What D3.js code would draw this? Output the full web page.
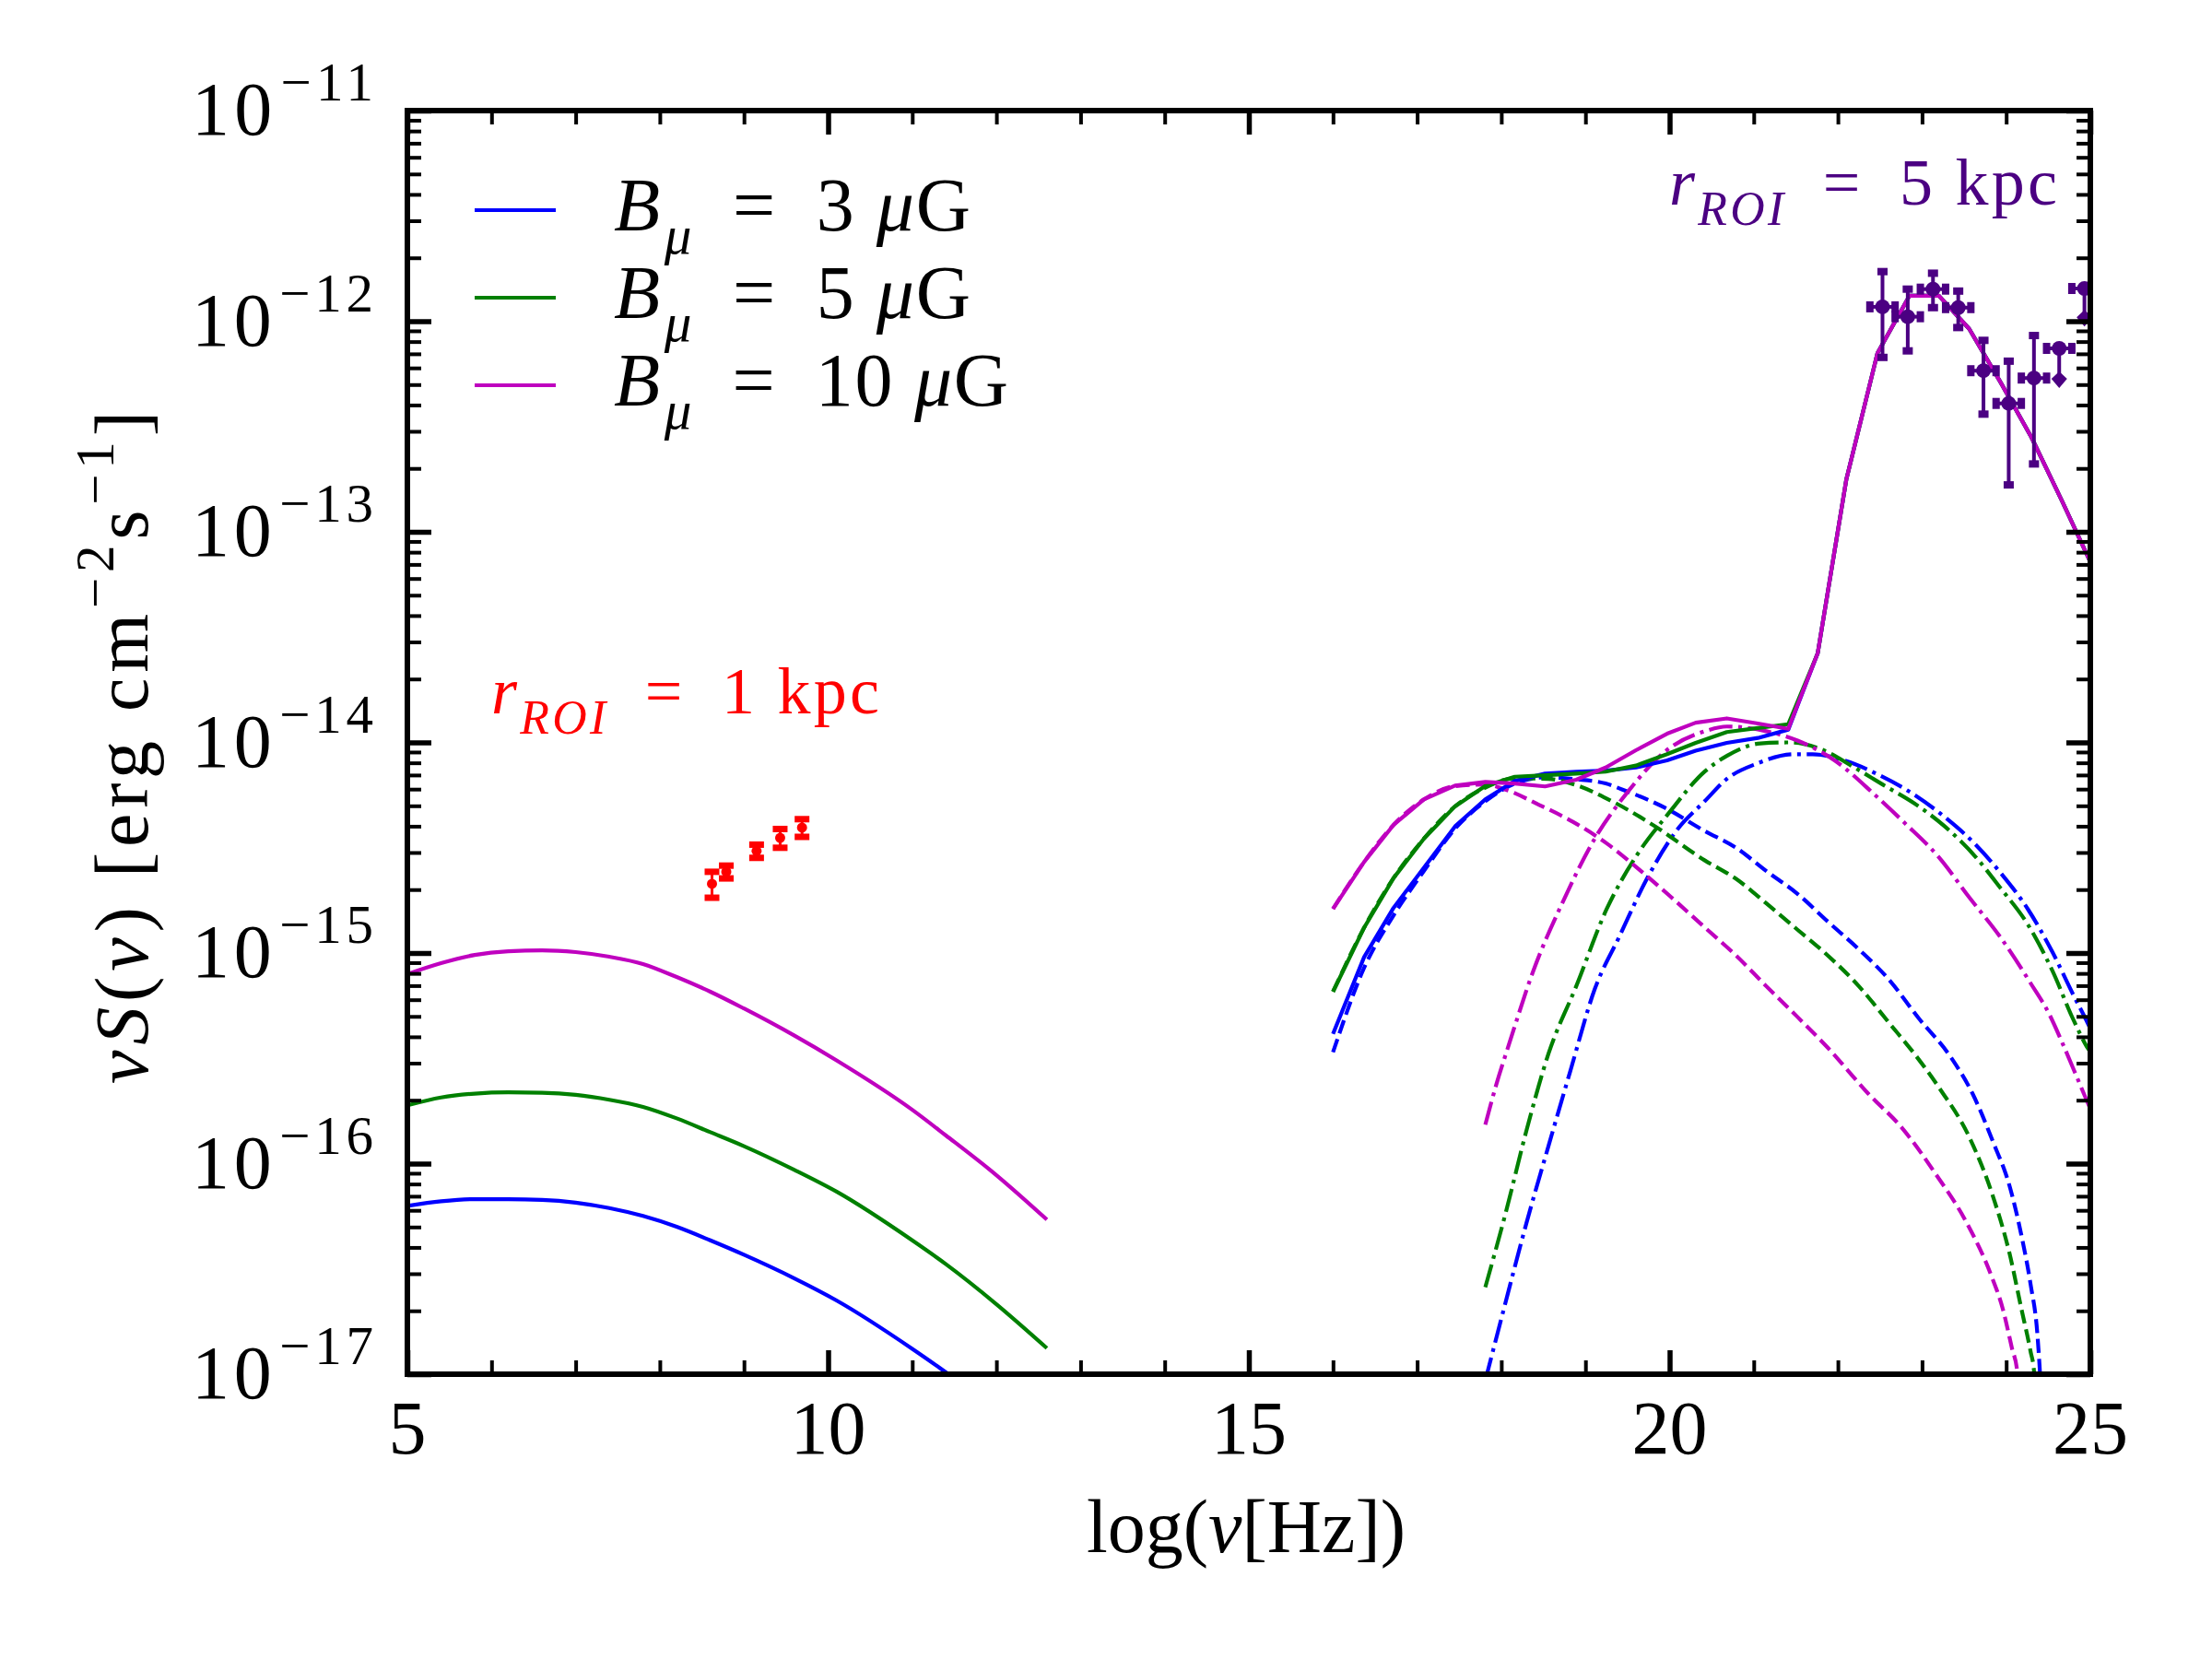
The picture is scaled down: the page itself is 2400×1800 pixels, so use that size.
<!DOCTYPE html>
<html>
<head>
<meta charset="utf-8">
<script src="https://cdn.jsdelivr.net/npm/d3@7"></script>
<style>
  body { margin: 0; background: #fff; }
  text { font-family: "Liberation Serif", "DejaVu Serif", serif; white-space: pre; }
</style>
</head>
<body>
<svg id="chart" width="2400" height="1800"></svg>
<script>
// ---- data ----
// synchrotron (radio) part, x = log(nu/Hz)
var syncX   = [5.0, 5.4, 5.8, 6.2, 6.6, 7.0, 7.4, 7.8, 8.2, 8.6, 9.0, 9.6, 10.1, 11.0, 11.4, 12.0, 12.6];
var syncB3  = [6.30e-17, 6.62e-17, 6.78e-17, 6.78e-17, 6.73e-17, 6.53e-17, 6.15e-17, 5.64e-17, 5.01e-17, 4.32e-17, 3.69e-17, 2.85e-17, 2.24e-17, 1.32e-17, 1.02e-17, 6.61e-18, 4.07e-18];
var syncB5  = [1.89e-16, 2.06e-16, 2.15e-16, 2.18e-16, 2.17e-16, 2.12e-16, 2.01e-16, 1.86e-16, 1.64e-16, 1.41e-16, 1.21e-16, 9.33e-17, 7.36e-17, 4.32e-17, 3.33e-17, 2.15e-17, 1.33e-17];
var syncB10 = [7.94e-16, 8.95e-16, 9.79e-16, 1.02e-15, 1.03e-15, 1.01e-15, 9.60e-16, 8.87e-16, 7.69e-16, 6.55e-16, 5.45e-16, 4.05e-16, 3.09e-16, 1.80e-16, 1.36e-16, 8.81e-17, 5.42e-17];

// high-energy totals (before the common gamma-ray bump)
var hiX   = [16.0, 16.37, 16.72, 17.08, 17.45, 17.81, 18.16, 18.52, 18.89, 19.24, 19.60, 19.97, 20.31, 20.68, 21.05, 21.41];
var hiB3  = [4.13e-16, 9.57e-16, 1.64e-15, 2.54e-15, 3.99e-15, 5.36e-15, 6.56e-15, 7.11e-15, 7.26e-15, 7.35e-15, 7.60e-15, 8.22e-15, 9.14e-15, 9.95e-15, 1.05e-14, 1.15e-14];
var hiB5  = [6.55e-16, 1.32e-15, 2.27e-15, 3.49e-15, 4.97e-15, 6.21e-15, 6.87e-15, 6.98e-15, 7.11e-15, 7.26e-15, 7.76e-15, 8.79e-15, 9.95e-15, 1.12e-14, 1.17e-14, 1.22e-14];
var hiB10 = [1.62e-15, 2.71e-15, 4.06e-15, 5.36e-15, 6.24e-15, 6.49e-15, 6.38e-15, 6.18e-15, 6.65e-15, 7.60e-15, 9.18e-15, 1.10e-14, 1.24e-14, 1.30e-14, 1.23e-14, 1.16e-14];
var bumpX = [21.76, 22.10, 22.47, 22.85, 23.20, 23.56, 23.94, 24.30, 24.66, 25.02];
var bumpY = [2.65e-14, 1.77e-13, 7.05e-13, 1.32e-12, 1.32e-12, 9.20e-13, 5.07e-13, 2.81e-13, 1.41e-13, 6.92e-14];

// dashed components
var dashB3X  = [16.0, 16.37, 16.72, 17.08, 17.45, 17.81, 18.16, 18.52, 18.89, 19.24, 19.44, 19.95, 20.42, 20.79, 21.15, 21.52, 21.88, 22.25, 22.61, 22.96, 23.34, 23.60, 23.85, 24.04, 24.18, 24.29, 24.37, 24.40, 24.44];
var dashB3Y  = [3.38e-16, 8.51e-16, 1.51e-15, 2.45e-15, 3.89e-15, 5.25e-15, 6.38e-15, 6.82e-15, 6.68e-15, 6.38e-15, 5.97e-15, 4.88e-15, 3.79e-15, 3.16e-15, 2.45e-15, 1.91e-15, 1.41e-15, 1.04e-15, 7.45e-16, 4.90e-16, 3.21e-16, 2.15e-16, 1.25e-16, 7.83e-17, 4.58e-17, 2.67e-17, 1.56e-17, 1.04e-17, 5.0e-18];
var dashB5X  = [16.0, 16.37, 16.72, 17.08, 17.45, 17.81, 18.16, 18.56, 18.85, 19.33, 19.80, 20.42, 20.79, 21.15, 21.52, 21.88, 22.25, 22.61, 22.93, 23.20, 23.56, 23.85, 24.04, 24.18, 24.29, 24.33, 24.36];
var dashB5Y  = [6.55e-16, 1.32e-15, 2.27e-15, 3.49e-15, 4.97e-15, 6.10e-15, 6.76e-15, 6.71e-15, 6.34e-15, 5.22e-15, 4.06e-15, 2.75e-15, 2.25e-15, 1.72e-15, 1.29e-15, 9.73e-16, 6.95e-16, 4.65e-16, 3.24e-16, 2.30e-16, 1.34e-16, 6.85e-17, 3.74e-17, 2.05e-17, 1.28e-17, 1.04e-17, 6.3e-18];
var dashB10X = [16.0, 16.37, 16.72, 17.08, 17.45, 17.81, 18.05, 18.45, 18.85, 19.25, 19.66, 20.02, 20.42, 20.79, 21.15, 21.52, 21.88, 22.36, 22.76, 23.16, 23.53, 23.82, 23.96, 24.07, 24.13, 24.16];
var dashB10Y = [1.62e-15, 2.71e-15, 4.06e-15, 5.36e-15, 6.20e-15, 6.31e-15, 5.97e-15, 5.05e-15, 4.20e-15, 3.32e-15, 2.45e-15, 1.84e-15, 1.32e-15, 9.73e-16, 6.95e-16, 4.97e-16, 3.55e-16, 2.15e-16, 1.48e-16, 8.95e-17, 5.24e-17, 2.96e-17, 2.04e-17, 1.32e-17, 1.04e-17, 6.3e-18];

// dash-dot components
var dotB3X  = [17.81, 18.05, 18.30, 18.56, 18.82, 19.11, 19.40, 19.73, 20.09, 20.42, 20.68, 21.04, 21.48, 21.70, 22.07, 22.47, 22.87, 23.27, 23.64, 23.93, 24.26, 24.55, 24.80, 24.95, 25.0];
var dotB3Y  = [9.33e-18, 2.19e-17, 5.24e-17, 1.21e-16, 2.75e-16, 6.73e-16, 1.19e-15, 2.25e-15, 3.85e-15, 5.27e-15, 6.71e-15, 7.94e-15, 8.79e-15, 8.79e-15, 8.22e-15, 7.06e-15, 5.77e-15, 4.42e-15, 3.26e-15, 2.41e-15, 1.61e-15, 1.01e-15, 6.30e-16, 4.81e-16, 4.37e-16];
var dotB5X  = [17.81, 18.05, 18.30, 18.56, 18.89, 19.25, 19.62, 19.98, 20.42, 20.68, 21.08, 21.44, 21.81, 22.18, 22.54, 22.91, 23.27, 23.64, 23.93, 24.26, 24.55, 24.80, 24.99, 25.0];
var dotB5Y  = [2.59e-17, 5.79e-17, 1.44e-16, 3.32e-16, 6.95e-16, 1.61e-15, 2.95e-15, 4.56e-15, 7.29e-15, 8.63e-15, 9.89e-15, 1.00e-14, 9.25e-15, 7.67e-15, 6.28e-15, 5.13e-15, 3.99e-15, 2.85e-15, 2.04e-15, 1.36e-15, 8.22e-16, 4.81e-16, 3.44e-16, 3.40e-16];
var dotB10X = [17.81, 17.94, 18.09, 18.38, 18.74, 19.11, 19.51, 19.95, 20.42, 20.68, 21.15, 21.52, 21.96, 22.43, 22.80, 23.20, 23.56, 23.93, 24.29, 24.51, 24.66, 24.80, 24.97, 25.0];
var dotB10Y = [1.53e-16, 2.37e-16, 3.67e-16, 8.22e-16, 1.78e-15, 3.49e-15, 5.87e-15, 9.08e-15, 1.13e-14, 1.19e-14, 1.13e-14, 1.02e-14, 8.22e-15, 5.68e-15, 4.12e-15, 2.85e-15, 1.84e-15, 1.19e-15, 7.19e-16, 5.14e-16, 3.80e-16, 2.81e-16, 1.94e-16, 1.82e-16];

// radio data, r_ROI = 1 kpc
var radioX   = [8.62, 8.79, 9.15, 9.43, 9.69];
var radioY   = [2.13e-15, 2.43e-15, 3.05e-15, 3.52e-15, 3.94e-15];
var radioErr = [0.30e-15, 0.17e-15, 0.22e-15, 0.36e-15, 0.38e-15];

// gamma-ray data, r_ROI = 5 kpc
var gamX    = [22.53, 22.83, 23.13, 23.43, 23.73, 24.03, 24.33];
var gamY    = [1.17e-12, 1.05e-12, 1.42e-12, 1.16e-12, 5.82e-13, 4.07e-13, 5.37e-13];
var gamHi   = [1.72e-12, 1.42e-12, 1.69e-12, 1.39e-12, 8.11e-13, 6.46e-13, 8.55e-13];
var gamLo   = [6.73e-13, 7.23e-13, 1.16e-12, 9.33e-13, 3.62e-13, 1.67e-13, 2.10e-13];
var gamXerr = 0.15;
// upper limits
var ulX   = [24.63, 24.93];
var ulY   = [7.43e-13, 1.43e-12];
var ulEnd = [4.86e-13, 9.53e-13];

var xMajor = [5, 10, 15, 20, 25];
var yMajor = [1e-17, 1e-16, 1e-15, 1e-14, 1e-13, 1e-12, 1e-11];
var legendLabels = ['3', '5', '10'];

// ---- layout ----
var L = 442, R = 2268, T = 120, B = 1491;
var svg = d3.select('#chart');
var x = d3.scaleLinear().domain([5, 25]).range([L, R]);
var y = d3.scaleLog().domain([1e-17, 1e-11]).range([B, T]);

var colors = ['#0000ff', '#008000', '#bf00bf'];
var purple = '#4b0082';
var lw = 4.2;
var dashed = '15,6.5';
var dashdot = '25.6,6.4,4,6.4';

svg.append('defs').append('clipPath').attr('id', 'plotclip')
  .append('rect').attr('x', L).attr('y', T).attr('width', R - L).attr('height', B - T);

var plot = svg.append('g').attr('clip-path', 'url(#plotclip)');
var line = d3.line().x(d => x(d[0])).y(d => y(d[1]));
var smooth = d3.line().x(d => x(d[0])).y(d => y(d[1])).curve(d3.curveMonotoneX);

function drawLine(gen, xs, ys, color, dash) {
  plot.append('path')
    .attr('d', gen(d3.zip(xs, ys)))
    .attr('fill', 'none')
    .attr('stroke', color)
    .attr('stroke-width', lw)
    .attr('stroke-linejoin', 'round')
    .attr('stroke-dasharray', dash || null);
}

var syncSets = [syncB3, syncB5, syncB10];
var hiSets = [hiB3, hiB5, hiB10];
var dashSets = [[dashB3X, dashB3Y], [dashB5X, dashB5Y], [dashB10X, dashB10Y]];
var dotSets = [[dotB3X, dotB3Y], [dotB5X, dotB5Y], [dotB10X, dotB10Y]];

for (var i = 0; i < 3; i++) {
  drawLine(smooth, syncX, syncSets[i], colors[i]);
  drawLine(smooth, dashSets[i][0], dashSets[i][1], colors[i], dashed);
  drawLine(smooth, dotSets[i][0], dotSets[i][1], colors[i], dashdot);
}
for (var i = 0; i < 3; i++) {
  drawLine(line, hiX.concat(bumpX), hiSets[i].concat(bumpY), colors[i]);
}

// radio points
radioX.forEach(function(v, k) {
  var cx = x(v), lo = y(radioY[k] - radioErr[k]), hi = y(radioY[k] + radioErr[k]);
  plot.append('line').attr('x1', cx).attr('x2', cx).attr('y1', lo).attr('y2', hi)
    .attr('stroke', 'red').attr('stroke-width', 3);
  [lo, hi].forEach(function(yy) {
    plot.append('rect').attr('x', cx - 8).attr('y', yy - 3.5).attr('width', 16).attr('height', 7).attr('fill', 'red');
  });
  plot.append('circle').attr('cx', cx).attr('cy', y(radioY[k])).attr('r', 5.5).attr('fill', 'red');
});

// gamma-ray points
function hBar(v, cy) {
  var x0 = x(v - gamXerr), x1 = x(v + gamXerr);
  plot.append('line').attr('x1', x0).attr('x2', x1).attr('y1', cy).attr('y2', cy)
    .attr('stroke', purple).attr('stroke-width', 4);
  [x0, x1].forEach(function(xx) {
    plot.append('rect').attr('x', xx - 4).attr('y', cy - 6).attr('width', 8).attr('height', 12).attr('fill', purple);
  });
}
gamX.forEach(function(v, k) {
  var cx = x(v), cy = y(gamY[k]), lo = y(gamLo[k]), hi = y(gamHi[k]);
  plot.append('line').attr('x1', cx).attr('x2', cx).attr('y1', lo).attr('y2', hi)
    .attr('stroke', purple).attr('stroke-width', 4);
  [lo, hi].forEach(function(yy) {
    plot.append('rect').attr('x', cx - 5.5).attr('y', yy - 4).attr('width', 11).attr('height', 8).attr('fill', purple);
  });
  hBar(v, cy);
  plot.append('circle').attr('cx', cx).attr('cy', cy).attr('r', 8).attr('fill', purple);
});
ulX.forEach(function(v, k) {
  var cx = x(v), cy = y(ulY[k]), ey = y(ulEnd[k]);
  plot.append('line').attr('x1', cx).attr('x2', cx).attr('y1', cy).attr('y2', ey - 8)
    .attr('stroke', purple).attr('stroke-width', 4);
  plot.append('path')
    .attr('d', 'M' + cx + ',' + (ey - 17) + 'L' + (cx + 8.5) + ',' + (ey - 9) + 'L' + cx + ',' + (ey + 1) + 'L' + (cx - 8.5) + ',' + (ey - 9) + 'Z')
    .attr('fill', purple);
  hBar(v, cy);
  plot.append('circle').attr('cx', cx).attr('cy', cy).attr('r', 8).attr('fill', purple);
});

// ---- ticks (inward on all four sides) ----
var xMinor = d3.range(6, 25).filter(v => v % 5 !== 0);
var yMinor = [];
yMajor.slice(0, -1).forEach(function(d) { for (var m = 2; m < 10; m++) yMinor.push(d * m); });

function tickGroup(axis, tx, ty, len, width) {
  var g = svg.append('g').attr('transform', 'translate(' + tx + ',' + ty + ')')
    .call(axis.tickSize(-len).tickFormat(''));
  g.select('.domain').remove();
  g.selectAll('line').attr('stroke', '#000').attr('stroke-width', width);
}
[[xMajor, 26, 5.5], [xMinor, 15, 4]].forEach(function(s) {
  tickGroup(d3.axisBottom(x).tickValues(s[0]), 0, B, s[1], s[2]);
  tickGroup(d3.axisTop(x).tickValues(s[0]), 0, T, s[1], s[2]);
});
[[yMajor, 26, 5.5], [yMinor, 15, 4]].forEach(function(s) {
  tickGroup(d3.axisLeft(y).tickValues(s[0]), L, 0, s[1], s[2]);
  tickGroup(d3.axisRight(y).tickValues(s[0]), R, 0, s[1], s[2]);
});

svg.append('rect').attr('x', L).attr('y', T).attr('width', R - L).attr('height', B - T)
  .attr('fill', 'none').attr('stroke', '#000').attr('stroke-width', 6);

// ---- text helpers ----
function mathText(sel, parts, size, len) {
  var shift = 0;
  parts.forEach(function(p) {
    var fs = (p.sub || p.sup) ? size * 0.72 : size;
    var target = p.sub ? size * 0.3 : (p.sup ? -size * 0.45 : 0);
    sel.append('tspan')
      .attr('dy', target - shift)
      .attr('dx', p.dx || null)
      .attr('font-size', fs)
      .attr('font-style', p.i ? 'italic' : 'normal')
      .text(p.t);
    shift = target;
  });
  if (len) sel.attr('textLength', len).attr('lengthAdjust', 'spacing');
  return sel;
}

// tick labels
var fs = 82;
xMajor.forEach(function(v) {
  svg.append('text').attr('x', x(v)).attr('y', 1577).attr('text-anchor', 'middle')
    .attr('font-size', fs).text(v);
});
yMajor.forEach(function(v) {
  var e = Math.round(Math.log10(v));
  var t = svg.append('text').attr('x', 405).attr('y', y(v) + 26).attr('text-anchor', 'end');
  mathText(t, [{t: '10'}, {t: '\u2212' + Math.abs(e), sup: true, dx: 4}], fs, 197);
});

// axis labels
mathText(svg.append('text').attr('x', 1352).attr('y', 1684).attr('text-anchor', 'middle'),
  [{t: 'log('}, {t: '\u03bd', i: true}, {t: '[Hz])'}], fs);
mathText(svg.append('text').attr('transform', 'translate(160,811) rotate(-90)').attr('text-anchor', 'middle'),
  [{t: '\u03bd', i: true}, {t: 'S', i: true}, {t: '('}, {t: '\u03bd', i: true}, {t: ') [erg cm'},
   {t: '\u2212' + '2', sup: true}, {t: 's'}, {t: '\u2212' + '1', sup: true}, {t: ']'}], fs, 730);

// legend
legendLabels.forEach(function(lab, k) {
  var ly = 228 + k * 95;
  svg.append('line').attr('x1', 515).attr('x2', 603).attr('y1', ly).attr('y2', ly)
    .attr('stroke', colors[k]).attr('stroke-width', lw);
  mathText(svg.append('text').attr('x', 666).attr('y', ly + 22),
    [{t: 'B', i: true}, {t: '\u03bc', i: true, sub: true, dx: 3}, {t: '\u2002=\u2002' + lab + ' '}, {t: '\u03bc', i: true}, {t: 'G'}],
    fs, lab.length > 1 ? 428 : 387);
});

// annotations
mathText(svg.append('text').attr('x', 1811).attr('y', 222).attr('fill', purple),
  [{t: 'r', i: true}, {t: 'ROI', i: true, sub: true}, {t: '\u2002=\u20025 kpc'}], 72, 421);
mathText(svg.append('text').attr('x', 533).attr('y', 774).attr('fill', 'red'),
  [{t: 'r', i: true}, {t: 'ROI', i: true, sub: true}, {t: '\u2002=\u20021 kpc'}], 72, 421);
</script>
</body>
</html>
